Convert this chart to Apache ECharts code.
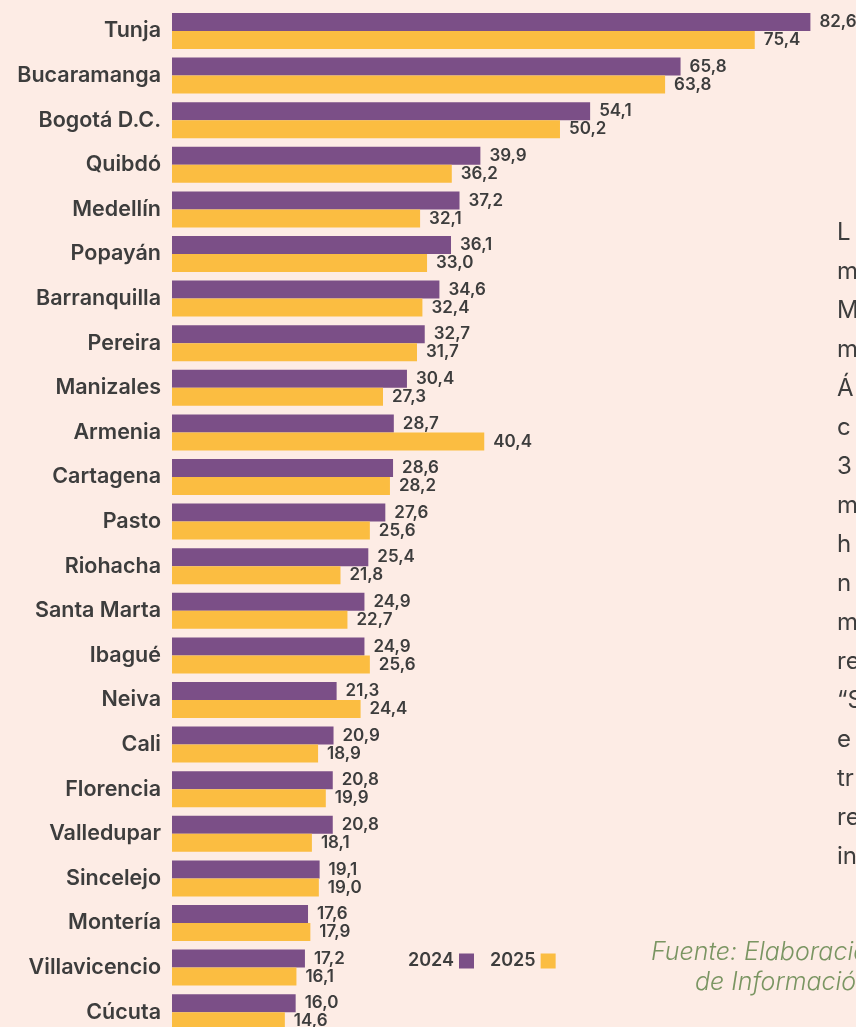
<!DOCTYPE html>
<html>
<head>
<meta charset="utf-8">
<script src="https://cdn.jsdelivr.net/npm/echarts@6/dist/echarts.min.js"></script>
<style>
html,body{margin:0;padding:0;background:#fdece5;overflow:hidden;width:856px;height:1027px;}
#c{width:856px;height:1040px;}
</style>
</head>
<body>
<div id="c"></div>
<script>
const cities = ['Tunja','Bucaramanga','Bogotá D.C.','Quibdó','Medellín','Popayán','Barranquilla','Pereira','Manizales','Armenia','Cartagena','Pasto','Riohacha','Santa Marta','Ibagué','Neiva','Cali','Florencia','Valledupar','Sincelejo','Montería','Villavicencio','Cúcuta'];
const v2024 = [82.6,65.8,54.1,39.9,37.2,36.1,34.6,32.7,30.4,28.7,28.6,27.6,25.4,24.9,24.9,21.3,20.9,20.8,20.8,19.1,17.6,17.2,16.0];
const v2025 = [75.4,63.8,50.2,36.2,32.1,33.0,32.4,31.7,27.3,40.4,28.2,25.6,21.8,22.7,25.6,24.4,18.9,19.9,18.1,19.0,17.9,16.1,14.6];
const seriesNames = ['2024','2025'];
const sideLines = ['L','m','M','m','Á','c','3','m','h','n','m','re','“S','e','tr','re','in'];
const sourceLines = ['Fuente: Elaboración','de Información'];

const FONT = 'Inter, "Noto Sans", sans-serif';
const TXT = '#3d3d3d';
const chart = echarts.init(document.getElementById('c'));
const fmt = p => p.value.toFixed(1).replace('.', ',');
const lab = {show:true, position:'right', distance:9, formatter:fmt, color:TXT, fontSize:17, fontWeight:600, fontFamily:FONT};

chart.setOption({
  backgroundColor:'#fdece5',
  animation:false,
  grid:{left:172, top:8.7, right:0, bottom:5.5},
  xAxis:{type:'value', min:0, max:88.5, show:false},
  yAxis:{type:'category', data:cities, inverse:true,
    axisLine:{show:false}, axisTick:{show:false}, splitLine:{show:false},
    axisLabel:{color:TXT, fontSize:21.5, fontWeight:600, fontFamily:FONT, margin:11, padding:[0,0,8,0]}},
  legend:{left:403, top:947, align:'right', itemWidth:15, itemHeight:15, itemGap:16,
    icon:'rect', textStyle:{color:TXT, fontSize:18, fontWeight:600, fontFamily:FONT},
    data:seriesNames},
  series:[
    {name:seriesNames[0], type:'bar', data:v2024, barWidth:18, barGap:'0%', itemStyle:{color:'#7b4f87'}, label:lab},
    {name:seriesNames[1], type:'bar', data:v2025, barWidth:18, barGap:'0%', itemStyle:{color:'#fbbd41'}, label:lab}
  ],
  graphic:[
    {type:'text', left:837, top:213, style:{text:sideLines.join('\n'), fill:TXT, fontSize:24, lineHeight:39, fontFamily:FONT}},
    {type:'text', left:651, top:940, style:{text:sourceLines[0], fill:'#7a9562', fontSize:25, fontWeight:300, fontStyle:'italic', fontFamily:FONT}},
    {type:'text', left:695, top:970, style:{text:sourceLines[1], fill:'#7a9562', fontSize:25, fontWeight:300, fontStyle:'italic', fontFamily:FONT}}
  ]
});
</script>
</body>
</html>
